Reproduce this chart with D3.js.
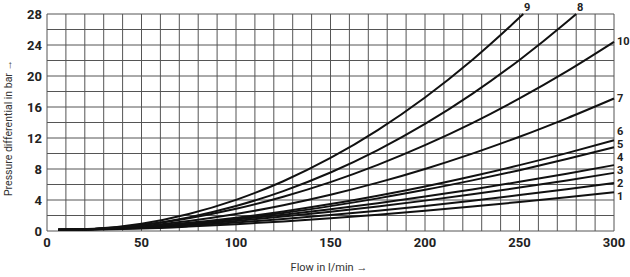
<!DOCTYPE html>
<html>
<head>
<meta charset="utf-8">
<script src="https://cdn.jsdelivr.net/npm/d3@7"></script>
<style>
  body { margin: 0; background: #fff; }
  svg { display: block; }
  .tick-label { font-family: "Liberation Sans Narrow", "Roboto", sans-serif; font-weight: bold; font-size: 13px; fill: #222; }
  .axis-title { font-family: "Liberation Sans Narrow", "Roboto", sans-serif; font-size: 11px; fill: #333; }
</style>
</head>
<body>
<div id="chartArea"></div>
<script>
// data
const flow = [6, 25, 50, 75, 100, 125, 150, 175, 200, 225, 250, 275, 300];
const flow8 = [6, 25, 50, 75, 100, 125, 150, 175, 200, 225, 250, 275, 280];
const flow9 = [6, 25, 50, 75, 100, 125, 150, 175, 200, 225, 250, 252];

const dp1 = [0.15, 0.2, 0.32, 0.57, 0.88, 1.24, 1.65, 2.11, 2.61, 3.16, 3.74, 4.35, 5.0];
const dp2 = [0.15, 0.22, 0.38, 0.7, 1.09, 1.54, 2.05, 2.62, 3.24, 3.91, 4.63, 5.39, 6.2];
const dp3 = [0.15, 0.24, 0.45, 0.84, 1.3, 1.86, 2.47, 3.17, 3.92, 4.73, 5.6, 6.53, 7.5];
const dp4 = [0.15, 0.25, 0.5, 0.94, 1.48, 2.1, 2.8, 3.59, 4.44, 5.36, 6.35, 7.4, 8.5];
const dp5 = [0.15, 0.24, 0.5, 0.97, 1.59, 2.33, 3.21, 4.21, 5.31, 6.53, 7.85, 9.28, 10.8];
const dp6 = [0.15, 0.25, 0.54, 1.05, 1.72, 2.53, 3.48, 4.56, 5.75, 7.07, 8.5, 10.05, 11.7];
const dp7 = [0.15, 0.25, 0.62, 1.29, 2.19, 3.33, 4.68, 6.24, 8.01, 9.99, 12.16, 14.54, 17.1];
const dp8 = [0.15, 0.25, 0.76, 1.76, 3.22, 5.15, 7.55, 10.44, 13.81, 17.69, 22.07, 26.96, 28];
const dp9 = [0.15, 0.28, 0.94, 2.2, 4.02, 6.42, 9.42, 13.02, 17.23, 22.07, 27.54, 28];
const dp10 = [0.15, 0.26, 0.75, 1.64, 2.86, 4.43, 6.31, 8.53, 11.07, 13.92, 17.1, 20.59, 24.4];

const xTicks = [0, 50, 100, 150, 200, 250, 300];
const yTicks = [0, 4, 8, 12, 16, 20, 24, 28];

const curves = [
    { name: "1", x: flow, y: dp1 },
    { name: "2", x: flow, y: dp2 },
    { name: "3", x: flow, y: dp3 },
    { name: "4", x: flow, y: dp4 },
    { name: "5", x: flow, y: dp5 },
    { name: "6", x: flow, y: dp6 },
    { name: "7", x: flow, y: dp7 },
    { name: "8", x: flow8, y: dp8 },
    { name: "9", x: flow9, y: dp9 },
    { name: "10", x: flow, y: dp10 }
];

// vertical nudges (px) so the crowded end numbers do not sit on each other
const labelNudge = { "1": 3.5, "2": 0, "3": -3, "4": -8, "5": -3.3, "6": -9.3, "7": 0, "10": -1, "8": 0, "9": 0 };

// layout
const width = 630, height = 277;
const margin = { top: 14, right: 16, bottom: 46, left: 47 };
const plotW = width - margin.left - margin.right;
const plotH = height - margin.top - margin.bottom;

var xScale = d3.scaleLinear().domain([0, 300]).range([0, plotW]);
var yScale = d3.scaleLinear().domain([0, 28]).range([plotH, 0]);

var svg = d3.select("#chartArea").append("svg")
    .attr("width", width)
    .attr("height", height);

var g = svg.append("g")
    .attr("transform", "translate(" + margin.left + "," + margin.top + ")");

// grid, every 10 l/min and every 2 bar
g.selectAll(".vgrid").data(d3.range(0, 301, 10)).enter().append("line")
    .attr("class", "vgrid")
    .attr("x1", d => xScale(d)).attr("x2", d => xScale(d))
    .attr("y1", 0).attr("y2", plotH)
    .attr("stroke", "#555").attr("stroke-width", 1);

g.selectAll(".hgrid").data(d3.range(0, 29, 2)).enter().append("line")
    .attr("class", "hgrid")
    .attr("x1", 0).attr("x2", plotW)
    .attr("y1", d => yScale(d)).attr("y2", d => yScale(d))
    .attr("stroke", "#555").attr("stroke-width", 1);

// tick labels
g.selectAll(".xlab").data(xTicks).enter().append("text")
    .attr("class", "tick-label")
    .attr("x", d => xScale(d)).attr("y", plotH + 16)
    .attr("text-anchor", "middle")
    .text(d => d);

g.selectAll(".ylab").data(yTicks).enter().append("text")
    .attr("class", "tick-label")
    .attr("x", -5).attr("y", d => yScale(d) + 5)
    .attr("text-anchor", "end")
    .text(d => d);

// axis titles
svg.append("text")
    .attr("class", "axis-title")
    .style("font-size", "10.5px")
    .attr("transform", "translate(12,128) rotate(-90)")
    .attr("text-anchor", "middle")
    .text("Pressure differential in bar \u2192");

svg.append("text")
    .attr("class", "axis-title")
    .attr("x", 329).attr("y", 271)
    .attr("text-anchor", "middle")
    .text("Flow in l/min \u2192");

// curves
var line = d3.line()
    .x(d => xScale(d[0]))
    .y(d => yScale(d[1]))
    .curve(d3.curveMonotoneX);

g.selectAll(".curve").data(curves).enter().append("path")
    .attr("class", "curve")
    .attr("d", c => line(c.x.map((x, i) => [x, c.y[i]])))
    .attr("fill", "none")
    .attr("stroke", "#111")
    .attr("stroke-width", 2);

// curve numbers at the line ends
g.selectAll(".clab").data(curves).enter().append("text")
    .attr("class", "tick-label")
    .style("font-size", "11px")
    .attr("x", c => {
        const x = c.x[c.x.length - 1], y = c.y[c.y.length - 1];
        return y >= 28 ? xScale(x) + 4 : xScale(x) + 3;
    })
    .attr("y", c => {
        const y = c.y[c.y.length - 1];
        return y >= 28 ? -3 : yScale(y) + 4 + labelNudge[c.name];
    })
    .attr("text-anchor", c => c.y[c.y.length - 1] >= 28 ? "middle" : "start")
    .text(c => c.name);
</script>
</body>
</html>
